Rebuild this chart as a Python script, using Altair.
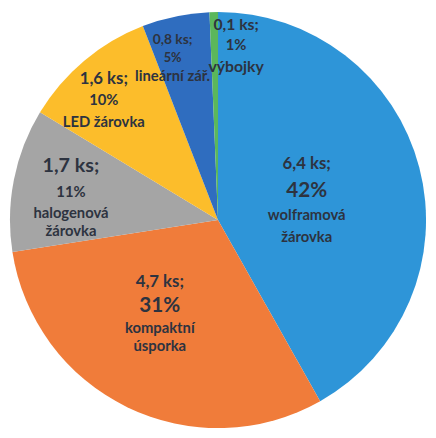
import altair as alt
import pandas as pd

# ---- data ----
categories = ["wolframová žárovka", "kompaktní úsporka", "halogenová žárovka",
              "LED žárovka", "lineární zář.", "výbojky"]
pieces = [6.4, 4.7, 1.7, 1.6, 0.8, 0.1]          # ks
shares = [42, 31, 11, 10, 5, 1]                  # %
name_line1 = ["wolframová", "kompaktní", "halogenová", "LED žárovka", "lineární zář.", "výbojky"]
name_line2 = ["žárovka", "úsporka", "žárovka", "", "", ""]
colors = ["#2E95D8", "#F07C3A", "#A5A5A5", "#FCBD2B", "#2F6DBF", "#5BB75B"]

df = pd.DataFrame({
    "cat": categories,
    "ks": pieces,
    "pct": shares,
    "order": list(range(len(categories))),
    "ks_label": [f"{v:.1f}".replace(".", ",") + " ks;" for v in pieces],
    "pct_label": [f"{p}%" for p in shares],
    "name1": name_line1,
    "name2": name_line2,
})

TEXT = "#2D3340"
FONT = "Lato"

# label styling per slice: radius from centre, x nudge, and lines (field, font size, dy)
label_layout = {
    "wolframová žárovka": dict(r=93, dx=0, lines=[("ks_label", 17, -33), ("pct_label", 21, -6),
                                                  ("name1", 15, 19), ("name2", 15, 41)]),
    "kompaktní úsporka": dict(r=110, dx=-11, lines=[("ks_label", 17, -36), ("pct_label", 21, -12),
                                                    ("name1", 15, 11), ("name2", 15, 29)]),
    "halogenová žárovka": dict(r=151, dx=-1, lines=[("ks_label", 20, -25), ("pct_label", 15, 1),
                                                    ("name1", 15, 22), ("name2", 15, 40)]),
    "LED žárovka": dict(r=160, dx=-13, lines=[("ks_label", 17, -20), ("pct_label", 15, 1),
                                              ("name1", 15, 23)]),
    "lineární zář.": dict(r=167, dx=-12, lines=[("ks_label", 14, -19), ("pct_label", 13, -1),
                                                ("name1", 15, 18)]),
    "výbojky": dict(r=177, dx=22, lines=[("ks_label", 16, -21), ("pct_label", 15, 0),
                                         ("name1", 16, 22)]),
}

pie = alt.Chart(df).mark_arc(outerRadius=211).encode(
    theta=alt.Theta("ks:Q", stack=True),
    color=alt.Color("cat:N", scale=alt.Scale(domain=categories, range=colors), legend=None),
    order=alt.Order("order:Q"),
)

base = alt.Chart(df).transform_window(
    cum="sum(ks)", sort=[alt.SortField("order")]
).transform_calculate(mid="datum.cum - datum.ks / 2")

layers = [pie]
for cat, lay in label_layout.items():
    for field, size, dy in lay["lines"]:
        layers.append(
            base.transform_filter(alt.datum.cat == cat).mark_text(
                radius=lay["r"], dx=lay["dx"], dy=dy, fontSize=size, font=FONT,
                fontWeight="bold", color=TEXT, align="center", baseline="middle",
            ).encode(
                theta=alt.Theta("mid:Q", stack=False),
                text=alt.Text(f"{field}:N"),
            )
        )

chart = alt.layer(*layers).properties(
    width=426, height=424, autosize=alt.AutoSizeParams(type="none"), padding=0,
    background="white",
).configure_view(stroke=None)

chart.save("out.html", embed_options={"renderer": "svg", "actions": False})
